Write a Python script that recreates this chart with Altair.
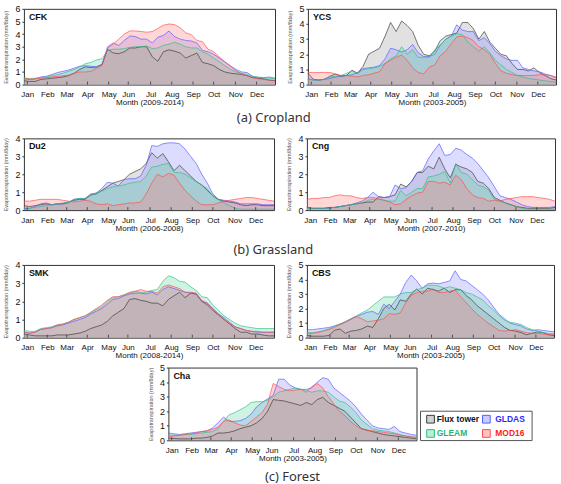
import json
import altair as alt
import pandas as pd

# ---------------- data ----------------
months = ["Jan", "Feb", "Mar", "Apr", "May", "Jun", "Jul", "Aug", "Sep", "Oct", "Nov", "Dec"]
month_pos = [1.6, 5.2, 8.7, 12.4, 16.2, 19.7, 23.7, 27.5, 31.3, 35.0, 38.9, 42.7]
series_names = ["Flux tower", "GLDAS", "GLEAM", "MOD16"]

cfk_flux = [0.3, 0.25, 0.25, 0.4, 0.45, 0.5, 0.55, 0.6, 0.7, 0.9,
            1.2, 1.4, 1.35, 1.4, 1.6, 2.8, 2.5, 2.45, 2.6, 2.9,
            2.9, 3.0, 3.0, 2.2, 1.85, 2.6, 2.75, 2.65, 2.5, 2.1,
            2.3, 2.5, 1.75, 1.65, 1.5, 1.2, 1.0, 0.9, 0.85, 0.8,
            0.7, 0.55, 0.5, 0.45, 0.35, 0.3]
cfk_gldas = [0.45, 0.4, 0.45, 0.6, 0.65, 0.8, 0.95, 1.05, 1.15, 1.3,
             1.45, 1.5, 1.45, 1.4, 1.6, 3.0, 3.3, 3.1, 3.5, 3.85,
             3.8, 3.6, 3.6, 3.3, 3.75, 3.9, 4.25, 3.8, 3.6, 3.5,
             3.45, 3.3, 2.7, 2.6, 2.4, 2.1, 1.8, 1.5, 1.2, 1.0,
             0.95, 0.65, 0.55, 0.55, 0.6, 0.5]
cfk_gleam = [0.5, 0.45, 0.5, 0.55, 0.6, 0.7, 0.8, 0.9, 1.05, 1.2,
             1.4, 1.65, 1.75, 1.95, 2.05, 2.7, 2.8, 2.8, 2.85, 2.95,
             3.0, 3.0, 3.05, 2.85, 2.9, 3.1, 3.2, 3.35, 3.2, 3.0,
             2.9, 2.9, 2.6, 2.4, 2.1, 1.8, 1.5, 1.2, 1.0, 0.9,
             0.8, 0.65, 0.6, 0.55, 0.5, 0.5]
cfk_mod16 = [0.55, 0.45, 0.45, 0.5, 0.55, 0.6, 0.65, 0.7, 0.75, 0.9,
             1.0, 1.0, 1.05, 1.3, 1.5, 2.9, 3.2, 3.6, 4.0, 4.25,
             4.25, 4.2, 4.15, 4.2, 4.45, 4.7, 4.8, 4.75, 4.5, 4.1,
             3.95, 3.5, 3.4, 2.8, 2.6, 2.2, 1.8, 1.45, 1.1, 0.85,
             0.7, 0.55, 0.45, 0.4, 0.35, 0.35]

ycs_flux = [0.75, 0.35, 0.3, 0.35, 0.55, 0.7, 0.55, 0.6, 0.95, 0.75,
            1.2, 2.0, 2.2, 2.4, 3.2, 4.1, 3.5, 4.2, 3.9, 3.5,
            2.6, 2.0, 1.9, 2.2, 2.9, 3.2, 3.3, 3.4, 4.1, 4.1,
            3.7, 3.0, 3.5, 2.8, 2.4, 2.0, 1.9, 1.4, 1.0, 1.0,
            0.9, 1.1, 0.8, 0.6, 0.4, 0.3]
ycs_gldas = [0.4, 0.3, 0.3, 0.35, 0.4, 0.5, 0.55, 0.6, 0.65, 0.8,
             1.05, 1.1, 1.15, 1.25, 1.7, 2.4, 2.3, 2.15, 2.3, 2.65,
             2.1, 1.85, 1.85, 2.0, 2.6, 3.0, 3.2, 3.95, 3.6, 3.5,
             3.5, 2.9, 3.1, 2.7, 2.2, 1.9, 1.7, 1.6, 1.6, 1.1,
             1.0, 0.9, 0.85, 0.7, 0.6, 0.45]
ycs_gleam = [0.35, 0.3, 0.3, 0.35, 0.5, 0.55, 0.6, 0.75, 0.9, 0.7,
             1.0, 1.05, 1.1, 1.2, 1.4, 1.7, 1.9, 2.5, 2.0, 2.3,
             1.8, 1.8, 1.8, 2.3, 2.6, 3.0, 3.2, 3.35, 3.3, 2.8,
             2.5, 2.2, 2.5, 2.1, 1.6, 1.3, 1.0, 0.8, 0.6, 0.5,
             0.4, 0.35, 0.3, 0.25, 0.2, 0.15]
ycs_mod16 = [0.8, 0.8, 0.8, 0.8, 0.8, 0.7, 0.6, 0.6, 0.55, 0.5,
             0.6, 0.65, 0.75, 0.85, 1.4, 1.6, 1.8, 1.95, 1.6, 1.1,
             0.8, 0.7, 1.15, 1.3, 1.9, 2.2, 2.7, 3.15, 3.2, 3.1,
             2.9, 2.5, 2.3, 2.0, 1.4, 0.9, 0.75, 0.65, 0.6, 0.6,
             0.6, 0.6, 0.65, 0.65, 0.6, 0.5]

du2_flux = [0.25, 0.2, 0.25, 0.3, 0.35, 0.3, 0.35, 0.35, 0.45, 0.55,
            0.6, 0.6, 0.85, 0.9, 1.1, 1.3, 1.5, 1.6, 1.7, 2.0,
            2.15, 2.3, 2.6, 3.2, 2.9, 3.15, 2.7, 2.2, 2.5, 2.2,
            1.9, 1.6, 1.4, 1.1, 0.8, 0.6, 0.5, 0.45, 0.4, 0.3,
            0.25, 0.3, 0.3, 0.25, 0.25, 0.25]
du2_gldas = [0.1, 0.1, 0.2, 0.35, 0.4, 0.3, 0.35, 0.35, 0.4, 0.6,
             0.65, 0.65, 0.9, 0.95, 1.2, 1.55, 1.5, 1.35, 1.7, 1.75,
             1.75, 1.9, 2.5, 3.6, 3.55, 3.7, 3.75, 3.75, 3.7, 3.4,
             3.0, 2.6, 2.0, 1.5, 0.9, 0.6, 0.55, 0.5, 0.45, 0.35,
             0.35, 0.35, 0.35, 0.3, 0.3, 0.3]
du2_gleam = [0.05, 0.1, 0.15, 0.2, 0.25, 0.3, 0.35, 0.4, 0.45, 0.6,
             0.65, 0.65, 0.8, 0.95, 1.05, 1.2, 1.3, 1.35, 1.4, 1.5,
             1.55, 1.6, 1.9, 2.4, 2.45, 2.55, 2.6, 2.1, 2.1, 2.0,
             1.8, 1.6, 1.4, 1.2, 0.8, 0.55, 0.4, 0.25, 0.1, 0.05,
             0.05, 0.05, 0.05, 0.05, 0.05, 0.05]
du2_mod16 = [0.5, 0.5, 0.55, 0.6, 0.6, 0.6, 0.6, 0.55, 0.5, 0.45,
             0.5, 0.55, 0.5, 0.35, 0.3, 0.35, 0.25, 0.3, 0.35, 0.4,
             0.4, 0.45, 0.9, 1.5, 2.0, 1.85, 2.05, 1.95, 1.5, 1.1,
             0.8, 0.5, 0.3, 0.3, 0.3, 0.4, 0.5, 0.55, 0.6, 0.65,
             0.7, 0.7, 0.65, 0.6, 0.55, 0.5]

cng_flux = [0.15, 0.1, 0.1, 0.1, 0.15, 0.15, 0.2, 0.25, 0.3, 0.35,
            0.4, 0.45, 0.45, 0.75, 0.7, 0.75, 0.85, 1.45, 1.3, 1.6,
            2.1, 2.1, 2.45, 2.3, 2.95, 2.3, 1.8, 2.55, 2.4, 2.3,
            2.1, 1.6, 1.5, 1.2, 0.7, 0.55, 0.4, 0.3, 0.2, 0.15,
            0.1, 0.1, 0.1, 0.1, 0.1, 0.15]
cng_gldas = [0.15, 0.1, 0.1, 0.1, 0.1, 0.15, 0.2, 0.25, 0.3, 0.4,
             0.5, 0.7, 1.0, 0.75, 0.7, 0.75, 1.4, 1.2, 1.25, 1.6,
             2.1, 2.2, 2.85, 3.3, 3.7, 3.05, 3.1, 3.45, 3.35, 3.1,
             2.9, 2.6, 2.2, 1.8, 1.3, 0.8, 0.7, 0.6, 0.45, 0.3,
             0.2, 0.15, 0.15, 0.15, 0.15, 0.2]
cng_gleam = [0.1, 0.1, 0.1, 0.1, 0.1, 0.15, 0.2, 0.25, 0.3, 0.35,
             0.4, 0.55, 0.6, 0.6, 0.55, 0.5, 0.5, 1.1, 0.8, 1.0,
             1.2, 1.2, 1.85, 1.9, 2.0, 2.15, 1.5, 2.6, 2.1, 2.0,
             1.7, 1.4, 1.3, 1.1, 0.6, 0.5, 0.4, 0.3, 0.2, 0.1,
             0.05, 0.05, 0.05, 0.05, 0.05, 0.05]
cng_mod16 = [0.6, 0.65, 0.65, 0.7, 0.7, 0.8, 0.85, 0.8, 0.8, 0.7,
             0.65, 0.7, 0.7, 0.65, 0.55, 0.45, 0.3, 0.35, 0.6, 0.8,
             0.95, 1.0, 1.6, 1.6, 1.5, 1.55, 1.4, 1.95, 1.7, 1.2,
             0.85, 0.7, 0.65, 0.5, 0.55, 0.5, 0.6, 0.65, 0.7, 0.75,
             0.75, 0.75, 0.7, 0.65, 0.6, 0.5]

smk_flux = [0.2, 0.15, 0.1, 0.1, 0.1, 0.1, 0.15, 0.15, 0.15, 0.2,
            0.25, 0.35, 0.5, 0.6, 0.7, 0.9, 1.2, 1.4, 1.6, 2.1,
            2.15, 2.05, 2.0, 1.9, 1.9, 1.75, 2.1, 2.3, 2.5, 2.2,
            2.45, 2.4, 2.0, 1.8, 1.5, 1.25, 1.0, 0.75, 0.5, 0.3,
            0.3, 0.2, 0.2, 0.15, 0.1, 0.1]
smk_gldas = [0.3, 0.25, 0.3, 0.45, 0.5, 0.55, 0.65, 0.7, 0.8, 0.9,
             1.0, 1.1, 1.3, 1.45, 1.6, 1.85, 2.1, 2.15, 2.3, 2.4,
             2.45, 2.45, 2.4, 2.5, 2.35, 2.65, 2.8, 2.7, 2.6, 2.5,
             2.45, 2.4, 2.0, 1.9, 1.6, 1.3, 1.1, 0.85, 0.6, 0.5,
             0.4, 0.35, 0.3, 0.3, 0.3, 0.3]
smk_gleam = [0.4, 0.35, 0.35, 0.5, 0.55, 0.6, 0.7, 0.75, 0.85, 1.0,
             1.1, 1.2, 1.35, 1.55, 1.7, 2.0, 2.2, 2.25, 2.35, 2.45,
             2.55, 2.5, 2.5, 2.6, 2.65, 3.1, 3.4, 3.3, 3.1, 3.05,
             2.8, 2.6, 2.25, 2.2, 1.8, 1.5, 1.2, 1.0, 0.8, 0.65,
             0.6, 0.55, 0.5, 0.5, 0.5, 0.5]
smk_mod16 = [0.3, 0.25, 0.3, 0.45, 0.5, 0.55, 0.7, 0.75, 0.85, 1.0,
             1.1, 1.2, 1.4, 1.6, 1.8, 2.05, 2.25, 2.25, 2.35, 2.5,
             2.55, 2.65, 2.55, 2.55, 2.45, 2.8, 2.9, 2.8, 2.7, 2.5,
             2.5, 2.45, 2.05, 1.9, 1.6, 1.3, 1.0, 0.8, 0.6, 0.5,
             0.4, 0.35, 0.35, 0.3, 0.3, 0.3]

cbs_flux = [0.15, 0.1, 0.1, 0.1, 0.15, 0.5, 0.6, 0.3, 0.45, 0.5,
            0.6, 0.8, 0.7, 1.3, 2.0, 2.3, 1.9, 2.6, 2.5, 3.0,
            3.35, 3.0, 3.4, 3.3, 3.2, 3.4, 3.1, 3.3, 3.3, 2.9,
            2.6, 2.2, 1.9, 1.6, 1.3, 1.0, 0.7, 0.5, 0.45, 0.35,
            0.2, 0.3, 0.4, 0.35, 0.2, 0.15]
cbs_gldas = [0.55, 0.55, 0.6, 0.65, 0.7, 0.8, 0.9, 1.05, 1.25, 1.45,
             1.6, 1.75, 1.8, 1.6, 2.3, 2.0, 2.5, 3.0, 3.8, 4.3,
             3.9, 3.4, 3.7, 3.75, 3.7, 3.8, 3.9, 4.6, 4.0, 3.9,
             3.6, 3.3, 3.0, 2.6, 2.1, 1.6, 1.3, 1.0, 0.9, 0.8,
             0.6, 0.5, 0.55, 0.5, 0.45, 0.4]
cbs_gleam = [0.35, 0.35, 0.4, 0.5, 0.6, 0.8, 0.95, 1.1, 1.3, 1.5,
             1.7, 1.9, 2.2, 2.5, 2.8, 2.8, 2.8, 3.0, 3.1, 3.1,
             3.3, 3.4, 3.6, 3.6, 3.55, 3.4, 3.5, 3.4, 3.3, 3.1,
             3.0, 2.8, 2.6, 2.2, 1.9, 1.5, 1.2, 1.05, 1.0, 0.9,
             0.7, 0.55, 0.45, 0.35, 0.3, 0.25]
cbs_mod16 = [0.3, 0.3, 0.35, 0.45, 0.55, 0.7, 0.9, 1.1, 1.3, 1.45,
             1.3, 1.1, 1.15, 1.2, 1.3, 1.65, 1.6, 1.7, 2.4, 2.9,
             3.1, 3.2, 3.2, 3.35, 3.1, 3.1, 3.2, 3.25, 2.8, 2.4,
             2.0, 1.6, 1.3, 1.0, 0.75, 0.5, 0.45, 0.5, 0.55, 0.45,
             0.35, 0.3, 0.3, 0.25, 0.2, 0.2]

cha_flux = [0.15, 0.12, 0.1, 0.1, 0.1, 0.15, 0.15, 0.2, 0.3, 0.5,
            0.5, 0.55, 0.65, 0.8, 0.9, 1.0, 1.2, 1.5, 2.0, 2.8,
            2.75, 2.7, 2.6, 2.5, 2.4, 2.6, 2.45, 2.8, 2.95, 2.6,
            2.4, 2.2, 2.0, 1.6, 1.2, 0.8, 0.7, 0.6, 0.5, 0.4,
            0.35, 0.3, 0.25, 0.2, 0.15, 0.1]
cha_gldas = [0.5, 0.45, 0.4, 0.45, 0.5, 0.55, 0.6, 0.65, 0.85, 1.2,
             1.6, 1.3, 1.3, 1.35, 1.5, 1.8, 2.3, 2.6, 2.85, 3.1,
             4.2, 4.2, 3.8, 3.6, 3.5, 3.5, 3.6, 4.0, 4.3, 4.2,
             3.6, 3.3, 3.0, 2.7, 2.3, 1.8, 1.4, 1.0, 0.85, 0.8,
             0.75, 0.95, 0.6, 0.5, 0.4, 0.35]
cha_gleam = [0.35, 0.35, 0.35, 0.4, 0.4, 0.45, 0.5, 0.55, 0.6, 0.8,
             1.3, 1.75, 1.9, 2.1, 2.3, 2.6, 2.65, 2.65, 2.75, 3.0,
             3.3, 3.4, 3.5, 3.6, 3.5, 3.45, 3.3, 3.4, 3.4, 3.3,
             3.0, 2.7, 2.6, 2.3, 1.9, 1.4, 1.1, 0.8, 0.7, 0.65,
             0.6, 0.5, 0.4, 0.3, 0.25, 0.2]
cha_mod16 = [0.25, 0.3, 0.35, 0.4, 0.45, 0.5, 0.6, 0.65, 0.75, 0.9,
             1.3, 1.4, 1.2, 1.05, 1.0, 1.3, 1.6, 1.9, 2.5, 3.9,
             3.7, 3.5, 3.4, 3.45, 3.5, 3.3, 3.7, 3.9, 3.6, 3.0,
             2.5, 2.0, 1.7, 1.3, 1.0, 0.8, 0.7, 0.65, 0.6, 0.55,
             0.5, 0.45, 0.35, 0.3, 0.25, 0.2]

# ---------------- styles ----------------
fill_colors = ["#9a9a9a", "#8a8aff", "#5fd6a0", "#ff7a7a"]
stroke_colors = ["#3a3a3a", "#5b5bff", "#2fbf85", "#ff4d4d"]
label_colors = ["#111111", "#2a2aff", "#1fb57a", "#ff2020"]
FONT = "Liberation Sans"

label_expr = "{}[indexof({}, datum.value)]".format(json.dumps(months), json.dumps(month_pos))


def make_panel(site, period, ymax, series_vals, w, h):
    rows = []
    for name, arr in zip(series_names, series_vals):
        for k, v in enumerate(arr):
            rows.append({"period8": k + 1, "series": name, "et": v})
    df = pd.DataFrame(rows)

    xenc = alt.X(
        "period8:Q",
        scale=alt.Scale(domain=[1, 46], nice=False, zero=False),
        axis=alt.Axis(
            values=month_pos, labelExpr=label_expr, title=f"Month ({period})",
            ticks=False, tickSize=0, domain=False, grid=False, labelOverlap=False,
            labelFlush=False, labelBound=False, labelPadding=6, titlePadding=0,
            labelFontSize=8, titleFontSize=8, labelColor="#111", titleColor="#111",
            labelFont=FONT, titleFont=FONT, titleFontWeight="normal",
        ),
    )
    yenc = alt.Y(
        "et:Q", stack=None,
        scale=alt.Scale(domain=[0, ymax], nice=False),
        axis=alt.Axis(
            values=list(range(ymax + 1)), format="d", labelOverlap=False,
            labelFlush=False, labelBound=False,
            title="Evapotranspiration (mm/8day)", titleFontSize=5.5,
            titleColor="#555", titleFontWeight="normal", titlePadding=6,
            labelFontSize=9, labelColor="#111", labelPadding=2, tickSize=2,
            tickColor="#333", domain=False, grid=False,
            labelFont=FONT, titleFont=FONT,
        ),
    )
    area = alt.Chart(df).mark_area(fillOpacity=0.3, strokeWidth=0).encode(
        x=xenc, y=yenc,
        fill=alt.Fill("series:N", scale=alt.Scale(domain=series_names, range=fill_colors), legend=None),
    )
    line = alt.Chart(df).mark_line(strokeWidth=0.8, opacity=0.85).encode(
        x=xenc, y=yenc,
        stroke=alt.Stroke("series:N", scale=alt.Scale(domain=series_names, range=stroke_colors), legend=None),
    )
    ticks = alt.Chart(pd.DataFrame({"period8": month_pos})).mark_rule(
        color="#333", strokeWidth=0.8
    ).encode(x=xenc, y=alt.value(h), y2=alt.value(h - 3))
    label = alt.Chart(pd.DataFrame({"period8": [1], "et": [ymax], "site": [site]})).mark_text(
        align="left", baseline="top", fontWeight="bold", fontSize=9, font=FONT,
        dx=5, dy=4, color="#111",
    ).encode(x=xenc, y=yenc, text="site:N")
    return alt.layer(area, line, ticks, label).properties(width=w, height=h)


def caption(text, offset, dx=0):
    return alt.TitleParams(
        text, orient="bottom", anchor="middle", offset=offset, dx=dx,
        fontSize=13, font="Noto Sans", fontWeight="normal", color="#333",
    )


cfk = make_panel("CFK", "2009-2014", 6, [cfk_flux, cfk_gldas, cfk_gleam, cfk_mod16], 252, 76)
ycs = make_panel("YCS", "2003-2005", 5, [ycs_flux, ycs_gldas, ycs_gleam, ycs_mod16], 249, 76)
du2 = make_panel("Du2", "2006-2008", 4, [du2_flux, du2_gldas, du2_gleam, du2_mod16], 251, 72)
cng = make_panel("Cng", "2007-2010", 4, [cng_flux, cng_gldas, cng_gleam, cng_mod16], 249, 72)
smk = make_panel("SMK", "2008-2014", 4, [smk_flux, smk_gldas, smk_gleam, smk_mod16], 251, 73)
cbs = make_panel("CBS", "2003-2005", 5, [cbs_flux, cbs_gldas, cbs_gleam, cbs_mod16], 248, 73)
cha = make_panel("Cha", "2003-2005", 5, [cha_flux, cha_gldas, cha_gleam, cha_mod16], 249, 73).properties(
    title=alt.TitleParams(
        "(c) Forest", orient="bottom", anchor="middle", frame="group", offset=9,
        fontSize=13, font="Noto Sans", fontWeight="normal", color="#333",
    )
)

# ---------------- legend (manual) ----------------
LW, LH = 112, 73
leg_rows = []
for k, name in enumerate(series_names):
    col = k % 2
    row = k // 2
    leg_rows.append({
        "label": name,
        "sx": [0.18, 1.18][col], "tx": [0.29, 1.34][col],
        "ly": [1.45, 0.47][row],
    })
leg_df = pd.DataFrame(leg_rows)
lx = alt.Scale(domain=[0, 2], nice=False, zero=False)
ly = alt.Scale(domain=[0, 5], nice=False, zero=False)
box = alt.Chart(pd.DataFrame({"a": [0]})).mark_rect(
    fill="white", stroke="#555", strokeWidth=1
).encode(
    x=alt.X("x0:Q", scale=lx, axis=None), x2="x1:Q",
    y=alt.Y("y0:Q", scale=ly, axis=None), y2="y1:Q",
).transform_calculate(x0="0", x1="2", y0="-0.02", y1="2.0")
squares = alt.Chart(leg_df).mark_square(size=60, strokeWidth=1, fillOpacity=0.45).encode(
    x=alt.X("sx:Q", scale=lx, axis=None),
    y=alt.Y("ly:Q", scale=ly, axis=None),
    fill=alt.Fill("label:N", scale=alt.Scale(domain=series_names, range=fill_colors), legend=None),
    stroke=alt.Stroke("label:N", scale=alt.Scale(domain=series_names, range=stroke_colors), legend=None),
)
texts = alt.Chart(leg_df).mark_text(
    align="left", baseline="middle", fontSize=8.5, fontWeight="bold", font=FONT
).encode(
    x=alt.X("tx:Q", scale=lx, axis=None),
    y=alt.Y("ly:Q", scale=ly, axis=None),
    text="label:N",
    color=alt.Color("label:N", scale=alt.Scale(domain=series_names, range=label_colors), legend=None),
)
legend = alt.layer(box, squares, texts).resolve_scale(
    fill="independent", stroke="independent", color="independent"
).properties(width=LW, height=LH, view=alt.ViewBackground(strokeOpacity=0))

spacer = alt.Chart(pd.DataFrame({"a": [0]})).mark_point(opacity=0).encode(
    x=alt.X("a:Q", axis=None), y=alt.Y("a:Q", axis=None)
).properties(width=120, height=10, view=alt.ViewBackground(strokeOpacity=0))

row1 = alt.hconcat(cfk, ycs, spacing=9).properties(title=caption("(a) Cropland", 5, -7))
row2 = alt.hconcat(du2, cng, spacing=9).properties(title=caption("(b) Grassland", 12, -7))
row3 = alt.hconcat(smk, cbs, spacing=9)
row4 = alt.hconcat(spacer, alt.hconcat(cha, legend, spacing=0), spacing=4)

chart = alt.vconcat(
    row1, alt.vconcat(row2, row3, row4, spacing=2), spacing=8
).properties(
    padding={"left": 3, "top": 3, "right": 2, "bottom": 2},
    background="white",
).configure_view(stroke="#333", strokeWidth=1).configure_concat(spacing=2)

chart.save("out.html", embed_options={"renderer": "svg", "actions": False})
